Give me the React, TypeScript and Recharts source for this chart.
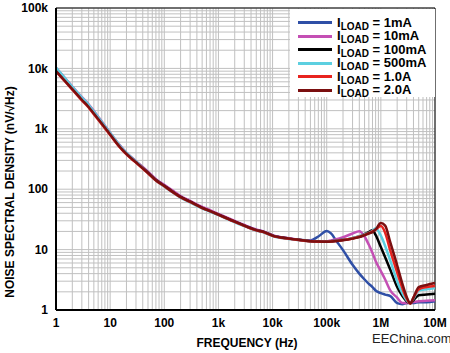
import React from "react";
import {
  CartesianGrid,
  Legend,
  Line,
  LineChart,
  ReferenceArea,
  XAxis,
  YAxis,
} from "recharts";

const freqs = [
  1, 1.5, 2, 3, 4, 5, 7, 10, 15, 20, 30, 50, 70, 100, 150, 200, 300, 500, 700,
  1e3, 2e3, 3e3, 5e3, 7e3, 1e4, 2e4, 3e4, 5e4, 7e4, 1e5, 1.2e5, 1.5e5, 2e5,
  3e5, 4e5, 5e5, 6e5, 7e5, 8e5, 1e6, 1.2e6, 1.5e6, 2e6, 2.5e6, 3e6, 3.5e6,
  4e6, 5e6, 7e6, 1e7,
];

const load1mA = [
  9600, 6400, 4750, 3150, 2400, 1860, 1260, 830, 520, 392, 285, 190, 143, 115,
  89, 75, 62.5, 49.5, 43.8, 38.3, 29.2, 25.2, 21.2, 19.6, 17.2, 15.3, 14.6,
  14.2, 16.5, 20.3, 18.5, 14, 9.8, 5.6, 4, 3.2, 2.7, 2.4, 2.1, 1.9, 1.8, 1.7,
  1.3, 1.25, 1.3, 1.3, 1.3, 1.35, 1.35, 1.4,
];
const load10mA = [
  10200, 6750, 5000, 3350, 2550, 1970, 1320, 860, 540, 405, 292, 196, 147, 118,
  92, 77, 64, 51, 45, 39, 29.8, 25.6, 21.5, 19.8, 17.4, 15.4, 14.6, 13.9,
  13.7, 13.7, 14.2, 14.8, 16, 18.5, 20.2, 16.5, 12, 8.8, 6.5, 4.4, 3.2, 2.1,
  1.6, 1.3, 1.3, 1.32, 1.35, 1.4, 1.42, 1.45,
];
const load100mA = [
  9300, 6250, 4700, 3140, 2390, 1850, 1250, 826, 516, 390, 283, 188, 142, 114,
  88, 74.5, 62, 49.2, 43.5, 38, 29, 25, 21, 19.5, 17, 15.2, 14.5, 13.8, 13.6,
  13.6, 13.8, 14, 14.5, 15.5, 16.5, 18, 19.5, 21, 17.5, 11, 7.5, 4.6, 2.4, 1.7,
  1.4, 1.3, 1.45, 1.75, 1.8, 1.85,
];
const load500mA = [
  10300, 6700, 4950, 3300, 2500, 1930, 1300, 850, 530, 398, 288, 185, 139,
  111, 86, 72.5, 60.5, 48, 42.5, 37.2, 28.4, 24.6, 20.7, 19.2, 16.8, 15,
  14.4, 13.7, 13.5, 13.5, 13.7, 14, 14.5, 15.5, 16.5, 17.8, 19, 20.5, 22.5, 17,
  11.5, 6.5, 3, 1.9, 1.45, 1.3, 1.55, 2.1, 2.2, 2.3,
];
const load1A = [
  8900, 5950, 4450, 2950, 2250, 1740, 1190, 790, 498, 378, 275, 184, 139, 112,
  87, 73.5, 61.5, 48.8, 43.2, 37.7, 28.8, 24.8, 20.8, 19.3, 16.9, 15.1, 14.4,
  13.7, 13.5, 13.5, 13.6, 13.9, 14.4, 15.3, 16.3, 17.5, 18.8, 20, 21.5, 24.5,
  19, 9.5, 4.2, 2.3, 1.55, 1.28, 1.6, 2.2, 2.4, 2.5,
];
const load2A = [
  9000, 6050, 4550, 3030, 2300, 1790, 1220, 808, 505, 383, 279, 186, 141,
  113, 87.5, 74, 62, 49.1, 43.4, 37.9, 29, 25, 21, 19.5, 17, 15.2, 14.5, 13.8,
  13.6, 13.5, 13.6, 13.9, 14.3, 15.2, 16.1, 17.3, 18.5, 19.5, 21.5, 27.5, 25,
  13, 5.5, 2.7, 1.65, 1.28, 1.6, 2.4, 2.6, 2.8,
];

const seriesNames = ["1mA", "10mA", "100mA", "500mA", "1.0A", "2.0A"];
const seriesKeys = ["a", "b", "c", "d", "e", "g"];
const seriesColors = ["#2f4fa6", "#c44fb4", "#000000", "#5ccfe0", "#e8231f", "#7b0f10"];

const xDecades = [1, 10, 100, 1e3, 1e4, 1e5, 1e6];
const yDecades = [1, 10, 100, 1e3, 1e4];
const multiples = [1, 2, 3, 4, 5, 6, 7, 8, 9];
const xTicks = [...xDecades.flatMap((d) => multiples.map((m) => m * d)), 1e7];
const yTicks = [...yDecades.flatMap((d) => multiples.map((m) => m * d)), 1e5];

const xLabels: Record<number, string> = {
  1: "1", 10: "10", 100: "100", 1000: "1k", 10000: "10k", 100000: "100k",
  1000000: "1M", 10000000: "10M",
};
const yLabels: Record<number, string> = {
  1: "1", 10: "10", 100: "100", 1000: "1k", 10000: "10k", 100000: "100k",
};

const data = freqs.map((f, i) => ({
  f,
  a: load1mA[i],
  b: load10mA[i],
  c: load100mA[i],
  d: load500mA[i],
  e: load1A[i],
  g: load2A[i],
}));

const font = "'Liberation Sans', Arial, Helvetica, sans-serif";
const tickStyle = { fill: "#000", fontSize: 12, fontWeight: "bold", fontFamily: font };

// legend drawn in series order (recharts sorts its payload by value)
const LegendBox = () => (
  <div
    style={{
      background: "#fff",
      width: 145,
      height: 88,
      paddingTop: 7,
      boxSizing: "border-box",
    }}
  >
    {seriesNames.map((name, i) => (
      <div
        key={name}
        style={{ display: "flex", alignItems: "center", height: 13.5 }}
      >
        <span
          style={{
            display: "inline-block",
            width: 34,
            height: 3,
            background: seriesColors[i],
            marginLeft: 8,
            marginRight: 5,
          }}
        />
        <span
          style={{
            fontSize: 13,
            fontWeight: "bold",
            fontFamily: font,
            lineHeight: "13px",
            whiteSpace: "nowrap",
            color: "#000",
          }}
        >
          I<span style={{ fontSize: 10, position: "relative", top: 3 }}>LOAD</span>{" "}
          = {name}
        </span>
      </div>
    ))}
  </div>
);

const App = () => {
  return (
    <div
      style={{
        position: "absolute",
        left: 0,
        top: 0,
        width: 450,
        height: 353,
        background: "#fff",
      }}
    >
      <LineChart
        width={450}
        height={353}
        data={data}
        margin={{ top: 8, right: 15, bottom: 0, left: 0 }}
      >
        <CartesianGrid stroke="#c0c0c0" strokeWidth={1} />
        <XAxis
          dataKey="f"
          type="number"
          scale="log"
          domain={[1, 1e7]}
          ticks={xTicks}
          interval={0}
          tickFormatter={(v: number) => xLabels[v] || ""}
          tick={tickStyle}
          tickLine={false}
          axisLine={{ stroke: "#000", strokeWidth: 2 }}
          height={43}
          label={{
            content: () => (
              <text
                x={247}
                y={347}
                textAnchor="middle"
                fontSize={12}
                fontWeight="bold"
                fontFamily={font}
                fill="#000"
              >
                FREQUENCY (Hz)
              </text>
            ),
          }}
        />
        <YAxis
          type="number"
          scale="log"
          domain={[1, 1e5]}
          ticks={yTicks}
          interval={0}
          tickFormatter={(v: number) => yLabels[v] || ""}
          tick={tickStyle}
          tickLine={false}
          axisLine={{ stroke: "#000", strokeWidth: 2 }}
          width={56}
          label={{
            content: () => (
              <text
                x={14}
                y={192}
                transform="rotate(-90 14 192)"
                textAnchor="middle"
                fontSize={12}
                fontWeight="bold"
                fontFamily={font}
                fill="#000"
              >
                NOISE SPECTRAL DENSITY (nV/√Hz)
              </text>
            ),
          }}
        />
        <ReferenceArea
          x1={1}
          x2={1e7}
          y1={1}
          y2={1e5}
          fill="none"
          stroke="#000"
          strokeWidth={1}
        />
        {seriesKeys.map((k, i) => (
          <Line
            key={k}
            type="monotone"
            dataKey={k}
            name={seriesNames[i]}
            stroke={seriesColors[i]}
            strokeWidth={2.5}
            dot={false}
            isAnimationActive={false}
          />
        ))}
        <Legend
          layout="vertical"
          align="center"
          verticalAlign="middle"
          content={LegendBox}
          wrapperStyle={{ left: 290, top: 9, width: 145, height: 88 }}
        />
      </LineChart>
      <div
        style={{
          position: "absolute",
          left: 372,
          top: 331,
          fontSize: 13,
          fontFamily: font,
          color: "#222",
          whiteSpace: "nowrap",
        }}
      >
        EEChina.com
      </div>
    </div>
  );
};

export default App;
